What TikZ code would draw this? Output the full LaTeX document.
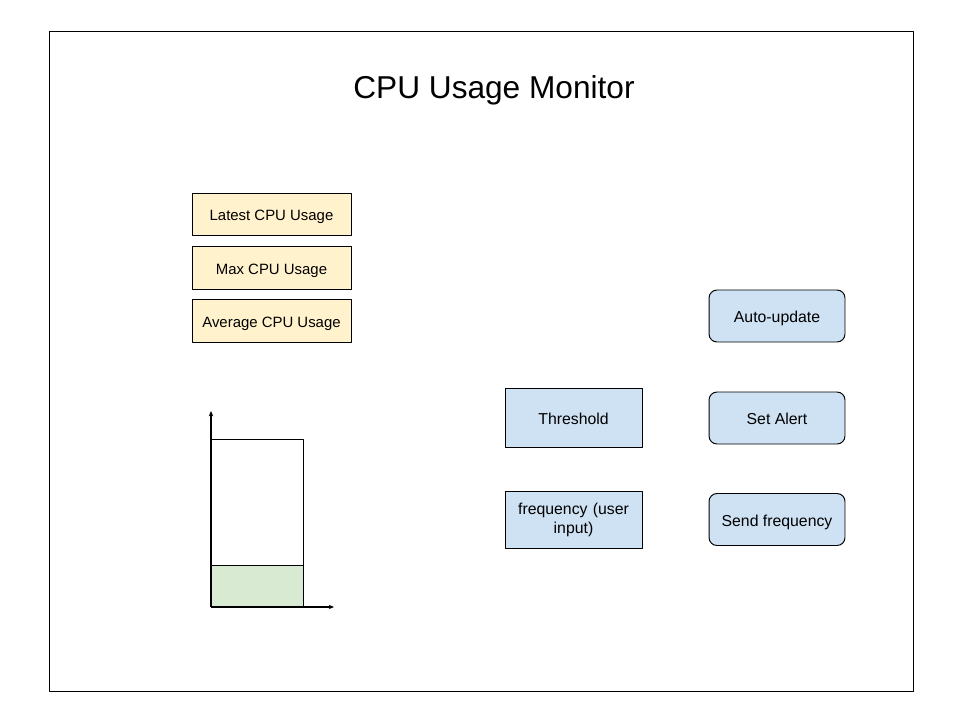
\documentclass[tikz,border=0pt]{standalone}
\usepackage{fontspec}
\setmainfont{Liberation Sans}
\usetikzlibrary{arrows.meta}
\definecolor{statfill}{HTML}{FFF2CC}
\definecolor{ctrlfill}{HTML}{CFE2F3}
\definecolor{barfill}{HTML}{D9EAD3}

\begin{document}
\begin{tikzpicture}[x=0.02cm, y=-0.02cm]
  \tikzstyle{myline}=[black, line width=0.55pt, line join=round];
  \useasboundingbox (0, 0) rectangle (960, 720);
  %
  % frame and title
  \draw[myline] (49, 31) rectangle (913, 691);
  \node (title) at (494, 90) {\fontsize{18}{22}\selectfont CPU Usage Monitor};
  %
  % usage read-outs
  \tikzstyle{stat}=[myline, draw, fill=statfill, minimum width=3.18cm,
    minimum height=0.85cm, inner sep=0pt, text height=1.4ex, text depth=0pt,
    font=\fontsize{8.5}{10}\selectfont];
  \node[stat] (latest) at (271.5, 214.5) {Latest CPU Usage};
  \node[stat] (max) at (271.5, 268) {Max CPU Usage};
  \node[stat] (avg) at (271.5, 321) {Average CPU Usage};
  %
  % bar chart
  \coordinate (barA) at (211, 607);
  \coordinate (barB) at (303, 607);
  \coordinate (barC) at (303, 439);
  \coordinate (barD) at (211, 439);
  \coordinate (levelL) at (211, 565);
  \coordinate (levelR) at (303, 565);
  \coordinate (yTip) at (211, 411);
  \coordinate (xTip) at (334, 607);
  \fill[barfill] (barA) rectangle (levelR);
  \draw[myline] (levelL) -- (levelR);
  \draw[myline] (barA) rectangle (barC);
  \tikzstyle{cs}=[black, line width=1pt, ->, >={Stealth[length=3pt, width=2.5pt]}];
  \draw[cs] (barA) -- (yTip);
  \draw[cs] (barA) -- (xTip);
  %
  % user inputs
  \tikzstyle{ctrl}=[myline, draw, fill=ctrlfill, minimum width=2.74cm,
    inner sep=0pt, align=center, font=\fontsize{9}{11}\selectfont];
  \node[ctrl, minimum height=1.18cm, text height=1.4ex, text depth=0pt] (threshold)
    at (573.5, 417.5) {Threshold};
  \node[ctrl, minimum height=1.14cm, text width=2.4cm] (freq) at (573.5, 520)
    {frequency (user\\input)};
  %
  % buttons
  \tikzstyle{btn}=[myline, draw, fill=ctrlfill, rounded corners=0.16cm,
    minimum width=2.72cm, minimum height=1.04cm, inner sep=0pt,
    text height=1.4ex, text depth=0pt, font=\fontsize{9}{11}\selectfont];
  \node[btn] (auto) at (777, 316) {Auto-update};
  \node[btn] (alert) at (777, 418) {Set Alert};
  \node[btn] (send) at (777, 519.5) {Send frequency};
\end{tikzpicture}
\end{document}
